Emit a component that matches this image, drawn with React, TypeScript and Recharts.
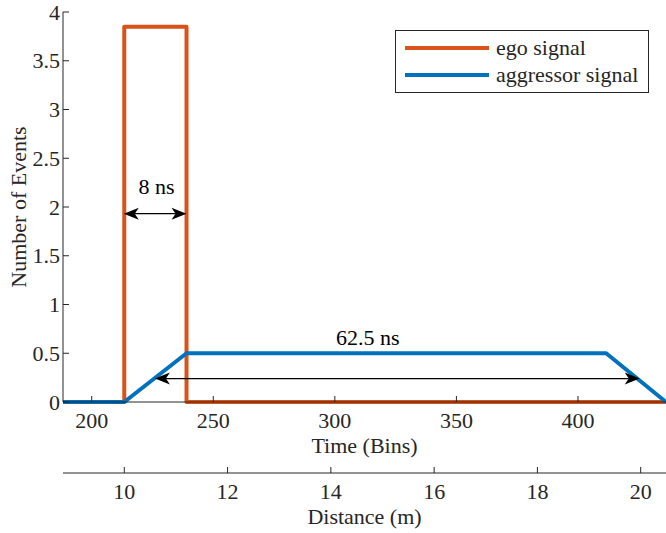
import React from 'react';
import { ComposedChart, Line, XAxis, YAxis, ReferenceLine, ReferenceDot, Legend } from 'recharts';

// ---- data ----
const egoX = [188.2, 213.4, 213.4, 239, 239, 436.2];
const egoY = [0, 0, 3.85, 3.85, 0, 0];
const aggX = [188.2, 213.4, 239, 411.6, 436.2];
const aggY = [0, 0, 0.5, 0.5, 0];

const binTicks = [200, 250, 300, 350, 400];
const distTicks = [10, 12, 14, 16, 18, 20];
const yTicks = [0, 0.5, 1, 1.5, 2, 2.5, 3, 3.5, 4];

const binDomain = [188.2, 436.2];
const distDomain = [8.813, 20.49];

const arrowX1 = [213.2, 226];
const arrowX2 = [239, 425.4];
const arrowY = [1.932, 0.24];
const arrowLabels = ['8 ns', '62.5 ns'];
const labelX = [226.7, 313.6];
const labelY = [2.212, 0.664];

const seriesNames = ['ego signal', 'aggressor signal'];
const COLORS = ['#D95319', '#0072BD'];

const egoData = egoX.map((x, i) => ({ x, y: egoY[i] }));
const aggData = aggX.map((x, i) => ({ x, y: aggY[i] }));

const FONT = '"Liberation Serif", "Times New Roman", serif';
const FS = 22;
const AX = '#262626';

const XTick = (props: any) => {
  const { x, y, payload } = props;
  return (
    <g>
      <line x1={x} x2={x} y1={y} y2={y - 6} stroke={AX} strokeWidth={1} />
      <text x={x} y={y + 18} textAnchor="middle" dominantBaseline="central" fontFamily={FONT} fontSize={FS} fill={AX}>
        {String(payload.value)}
      </text>
    </g>
  );
};

const YTick = (props: any) => {
  const { x, y, payload } = props;
  return (
    <g>
      <line x1={x} x2={x + 6} y1={y} y2={y} stroke={AX} strokeWidth={1} />
      <text x={x - 3} y={y} textAnchor="end" dominantBaseline="central" fontFamily={FONT} fontSize={FS} fill={AX}>
        {String(payload.value)}
      </text>
    </g>
  );
};

const ArrowShape = (props: any) => {
  const { x1, y1, x2, y2 } = props;
  const L = 15, W = 6, N = 11;
  return (
    <g>
      <line x1={x1 + N} y1={y1} x2={x2 - N} y2={y2} stroke="#000" strokeWidth={1.2} />
      <polygon points={`${x1},${y1} ${x1 + L},${y1 - W} ${x1 + N},${y1} ${x1 + L},${y1 + W}`} fill="#000" />
      <polygon points={`${x2},${y2} ${x2 - L},${y2 - W} ${x2 - N},${y2} ${x2 - L},${y2 + W}`} fill="#000" />
    </g>
  );
};

const LegendBox = () => (
  <div
    style={{
      width: 252,
      height: 61,
      border: `1px solid ${AX}`,
      background: '#fff',
      fontFamily: FONT,
      fontSize: FS,
      color: AX,
      position: 'relative',
      boxSizing: 'content-box',
    }}
  >
    {seriesNames.map((n, i) => (
      <div key={n} style={{ position: 'absolute', left: 9, top: i === 0 ? 4 : 31, height: 26, display: 'flex', alignItems: 'center', whiteSpace: 'nowrap' }}>
        <div style={{ width: 84, height: 4, background: COLORS[i], marginRight: 7 }} />
        <span style={{ lineHeight: '26px' }}>{n}</span>
      </div>
    ))}
  </div>
);

export default function App() {
  return (
    <div style={{ position: 'absolute', left: 0, top: 0, width: 666, height: 533, background: '#fff' }}>
      <ComposedChart width={666} height={533} margin={{ top: 12, right: 0, bottom: 0, left: 0 }}>
        <XAxis
          xAxisId="bins"
          dataKey="x"
          type="number"
          domain={binDomain}
          allowDataOverflow
          ticks={binTicks}
          tick={<XTick />}
          tickLine={false}
          tickSize={0}
          tickMargin={0}
          height={71}
          axisLine={{ stroke: AX, strokeWidth: 1 }}
          label={{
            content: (p: any) => {
              const vb = p.viewBox || {};
              return (
                <text x={vb.x + vb.width / 2} y={vb.y + 43} textAnchor="middle" dominantBaseline="central" fontFamily={FONT} fontSize={FS} fill={AX}>
                  Time (Bins)
                </text>
              );
            },
          }}
        />
        <XAxis
          xAxisId="dist"
          dataKey="d"
          type="number"
          domain={distDomain}
          allowDataOverflow
          ticks={distTicks}
          tick={<XTick />}
          tickLine={false}
          tickSize={0}
          tickMargin={0}
          height={60}
          axisLine={{ stroke: AX, strokeWidth: 1 }}
          label={{
            content: (p: any) => {
              const vb = p.viewBox || {};
              return (
                <text x={vb.x + vb.width / 2} y={vb.y + 43} textAnchor="middle" dominantBaseline="central" fontFamily={FONT} fontSize={FS} fill={AX}>
                  Distance (m)
                </text>
              );
            },
          }}
        />
        <YAxis
          type="number"
          domain={[0, 4]}
          ticks={yTicks}
          width={63}
          tick={<YTick />}
          tickLine={false}
          tickSize={0}
          tickMargin={0}
          axisLine={{ stroke: AX, strokeWidth: 1 }}
          label={{
            content: (p: any) => {
              const vb = p.viewBox || {};
              const cy = vb.y + vb.height / 2;
              return (
                <text x={18} y={cy} transform={`rotate(-90, 18, ${cy})`} textAnchor="middle" dominantBaseline="central" fontFamily={FONT} fontSize={FS} fill={AX}>
                  Number of Events
                </text>
              );
            },
          }}
        />
        <Legend
          layout="vertical"
          align="center"
          verticalAlign="middle"
          content={() => <LegendBox />}
          wrapperStyle={{ position: 'absolute', left: 395, top: 30, width: 254, height: 63 }}
        />
        <Line
          xAxisId="bins"
          data={egoData}
          dataKey="y"
          name={seriesNames[0]}
          stroke={COLORS[0]}
          strokeWidth={4}
          strokeLinejoin="round"
          dot={false}
          activeDot={false}
          isAnimationActive={false}
        />
        <Line
          xAxisId="bins"
          data={aggData}
          dataKey="y"
          name={seriesNames[1]}
          stroke={COLORS[1]}
          strokeWidth={4}
          strokeLinejoin="round"
          dot={false}
          activeDot={false}
          isAnimationActive={false}
        />
        {arrowLabels.map((lab, i) => (
          <ReferenceLine
            key={'a' + i}
            xAxisId="bins"
            segment={[{ x: arrowX1[i], y: arrowY[i] }, { x: arrowX2[i], y: arrowY[i] }]}
            shape={<ArrowShape />}
            ifOverflow="visible"
          />
        ))}
        {arrowLabels.map((lab, i) => (
          <ReferenceDot
            key={'l' + i}
            xAxisId="bins"
            x={labelX[i]}
            y={labelY[i]}
            ifOverflow="visible"
            shape={(p: any) => (
              <text x={p.cx} y={p.cy} textAnchor="middle" dominantBaseline="central" fontFamily={FONT} fontSize={FS} fill="#000">
                {lab}
              </text>
            )}
          />
        ))}
      </ComposedChart>
    </div>
  );
}
